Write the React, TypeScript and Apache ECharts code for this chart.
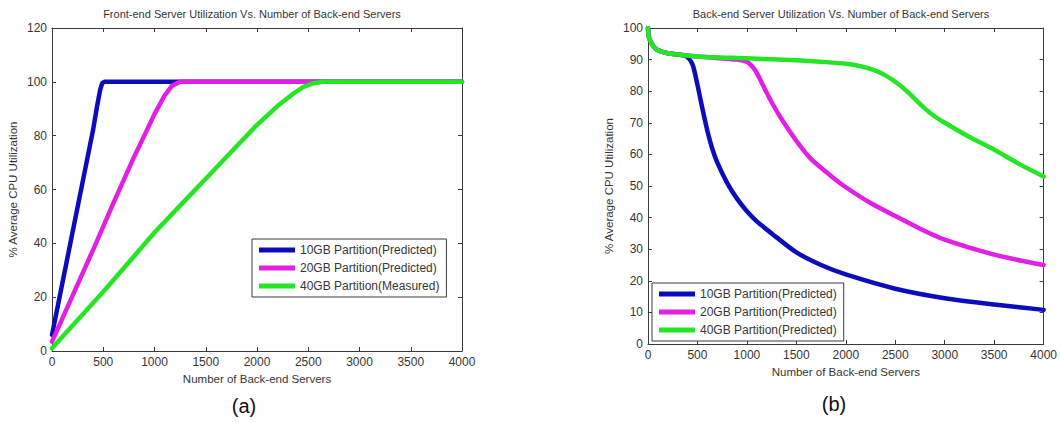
import React, { useEffect, useRef } from "react";
import * as echarts from "echarts";

// ---------- Data ----------
const seriesNamesA = ["10GB Partition(Predicted)", "20GB Partition(Predicted)", "40GB Partition(Measured)"];
const seriesNamesB = ["10GB Partition(Predicted)", "20GB Partition(Predicted)", "40GB Partition(Predicted)"];

// (a) Front-end server utilization
const feX10 = [0, 100, 200, 300, 400, 440, 470, 490, 510, 1000, 2000, 3000, 4000];
const feY10 = [6, 25, 44, 63, 82, 91, 97, 99.5, 100, 100, 100, 100, 100];
const feX20 = [0, 200, 400, 600, 800, 1000, 1100, 1170, 1250, 1350, 2000, 3000, 4000];
const feY20 = [3.5, 20.5, 37.5, 55, 72, 88, 95, 98.5, 100, 100, 100, 100, 100];
const feX40 = [0, 250, 500, 750, 1000, 1250, 1500, 1750, 2000, 2200, 2350, 2450, 2550, 2650, 2750, 3000, 4000];
const feY40 = [1, 11.5, 22, 33, 44, 54, 64, 74, 84, 91, 95.5, 98, 99.5, 100, 100, 100, 100];

// (b) Back-end server utilization
const beX10 = [0, 10, 30, 60, 100, 200, 300, 390, 450, 500, 550, 600, 650, 700, 800, 900, 1000, 1100, 1250, 1500, 1750, 2000, 2500, 3000, 3500, 4000];
const beY10 = [100, 97, 95.5, 94, 93, 92, 91.6, 91, 88.5, 82, 74.5, 67.5, 61.8, 57.5, 51, 46, 42, 38.8, 35, 29, 25, 22, 17.5, 14.5, 12.5, 10.8];
const beX20 = [0, 10, 30, 60, 100, 200, 300, 500, 700, 900, 1000, 1050, 1100, 1170, 1250, 1350, 1500, 1650, 1850, 2000, 2250, 2500, 2750, 3000, 3250, 3500, 3750, 4000];
const beY20 = [100, 97, 95.5, 94, 93, 92, 91.6, 91, 90.5, 90, 89.3, 88, 85.8, 81.4, 76.5, 71.2, 64.3, 58.5, 53.2, 49.6, 44.6, 40.5, 36.5, 33, 30.5, 28.3, 26.5, 25];
const beX40 = [0, 10, 30, 60, 100, 200, 300, 500, 1000, 1500, 1800, 2000, 2100, 2200, 2300, 2400, 2500, 2600, 2700, 2800, 2900, 3000, 3250, 3500, 3750, 4000];
const beY40 = [100, 97, 95.5, 94, 93, 92, 91.6, 91, 90.4, 89.8, 89.2, 88.7, 88.2, 87.5, 86.5, 85, 83, 80.5, 77.5, 74.5, 72, 70, 65.5, 61.5, 57, 53];

const colors = ["#0c0cbc", "#e21fe2", "#25e625"];

const zip = (xs: number[], ys: number[]) => xs.map((x, i) => [x, ys[i]]);

const FONT = '"Liberation Sans", Arial, Helvetica, sans-serif';
const TXT = "#363636";
const AX = "#3a3a3a";

export default function App() {
  const ref = useRef<HTMLDivElement>(null);

  useEffect(() => {
    if (!ref.current) return;
    const chart = echarts.init(ref.current, undefined, { renderer: "svg" });

    const grids = [
      { left: 52, top: 28, width: 410, height: 323 },
      { left: 648, top: 28, width: 399, height: 316 },
    ];

    const mkX = (gi: number, pos: "bottom" | "top") => ({
      type: "value",
      gridIndex: gi,
      position: pos,
      min: 0,
      max: 4000,
      interval: 500,
      name: pos === "bottom" ? "Number of Back-end Servers" : "",
      nameLocation: "middle",
      nameGap: 21,
      nameTextStyle: { fontFamily: FONT, fontSize: 11.5, color: TXT },
      axisLine: { show: true, onZero: false, lineStyle: { color: AX, width: 1 } },
      axisTick: { show: true, inside: true, length: 4, lineStyle: { color: AX } },
      axisLabel: {
        show: pos === "bottom",
        fontFamily: FONT,
        fontSize: 12,
        color: TXT,
        margin: 5,
        formatter: (v: number) => String(v),
      },
      splitLine: { show: false },
    });

    const mkY = (gi: number, pos: "left" | "right", max: number, interval: number) => ({
      type: "value",
      gridIndex: gi,
      position: pos,
      min: 0,
      max,
      interval,
      name: pos === "left" ? "% Average CPU Utilization" : "",
      nameLocation: "middle",
      nameGap: 33,
      nameTextStyle: { fontFamily: FONT, fontSize: 11.5, color: TXT },
      axisLine: { show: true, onZero: false, lineStyle: { color: AX, width: 1 } },
      axisTick: { show: true, inside: true, length: 4, lineStyle: { color: AX } },
      axisLabel: {
        show: pos === "left",
        fontFamily: FONT,
        fontSize: 12,
        color: TXT,
        margin: 5,
        formatter: (v: number) => String(v),
      },
      splitLine: { show: false },
    });

    const lineSeries = (name: string, data: number[][], color: string, xi: number, yi: number, smooth: number | boolean) => ({
      type: "line",
      name,
      data,
      xAxisIndex: xi,
      yAxisIndex: yi,
      showSymbol: false,
      smooth,
      color,
      lineStyle: { color, width: 4.5, join: "round", cap: "round" },
      itemStyle: { color },
    });

    const legendBase = {
      orient: "vertical",
      icon: "rect",
      itemWidth: 36,
      itemHeight: 5,
      itemGap: 4,
      padding: [4, 7, 4, 7],
      borderColor: AX,
      borderWidth: 1,
      backgroundColor: "#ffffff",
      borderRadius: 0,
      selectedMode: false,
      textStyle: { fontFamily: FONT, fontSize: 12, color: TXT, lineHeight: 14 },
    };

    const option: any = {
      animation: false,
      backgroundColor: "#ffffff",
      grid: grids,
      xAxis: [mkX(0, "bottom"), mkX(0, "top"), mkX(1, "bottom"), mkX(1, "top")],
      yAxis: [
        mkY(0, "left", 120, 20),
        mkY(0, "right", 120, 20),
        mkY(1, "left", 100, 10),
        mkY(1, "right", 100, 10),
      ],
      legend: [
        { ...legendBase, left: 252, top: 239, data: seriesNamesA },
        { ...legendBase, left: 652, top: 283, data: seriesNamesB },
      ],
      series: [
        lineSeries(seriesNamesA[0], zip(feX10, feY10), colors[0], 0, 0, false),
        lineSeries(seriesNamesA[1], zip(feX20, feY20), colors[1], 0, 0, false),
        lineSeries(seriesNamesA[2], zip(feX40, feY40), colors[2], 0, 0, false),
        lineSeries(seriesNamesB[0], zip(beX10, beY10), colors[0], 2, 2, 0.25),
        lineSeries(seriesNamesB[1], zip(beX20, beY20), colors[1], 2, 2, 0.25),
        lineSeries(seriesNamesB[2], zip(beX40, beY40), colors[2], 2, 2, 0.25),
      ],
      graphic: [
        {
          type: "text",
          x: 252,
          y: 13.5,
          style: {
            text: "Front-end Server Utilization Vs. Number of Back-end Servers",
            fontFamily: FONT,
            fontSize: 11,
            fill: TXT,
            align: "center",
            verticalAlign: "middle",
          },
        },
        {
          type: "text",
          x: 841,
          y: 13.5,
          style: {
            text: "Back-end Server Utilization Vs. Number of Back-end Servers",
            fontFamily: FONT,
            fontSize: 11,
            fill: TXT,
            align: "center",
            verticalAlign: "middle",
          },
        },
        {
          type: "text",
          x: 244,
          y: 406,
          style: {
            text: "(a)",
            fontFamily: FONT,
            fontSize: 20,
            fill: "#111",
            align: "center",
            verticalAlign: "middle",
          },
        },
        {
          type: "text",
          x: 834,
          y: 404,
          style: {
            text: "(b)",
            fontFamily: FONT,
            fontSize: 20,
            fill: "#111",
            align: "center",
            verticalAlign: "middle",
          },
        },
      ],
    };

    chart.setOption(option);
    return () => chart.dispose();
  }, []);

  return (
    <div
      ref={ref}
      style={{ position: "fixed", left: 0, top: 0, width: 1060, height: 423, background: "#fff" }}
    />
  );
}
